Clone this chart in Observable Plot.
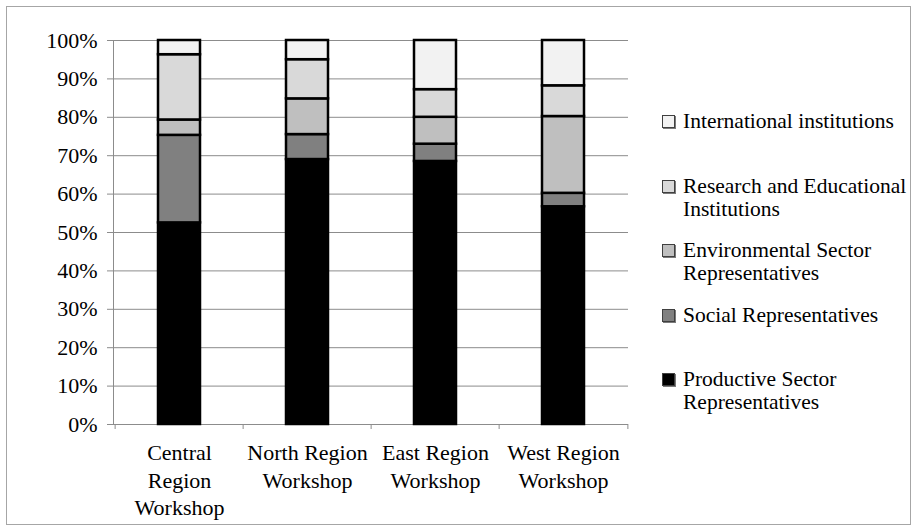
<!DOCTYPE html>
<html>
<head>
<meta charset="utf-8">
<script src="https://cdn.jsdelivr.net/npm/d3@7"></script>
<script src="https://cdn.jsdelivr.net/npm/@observablehq/plot@0.6"></script>
<style>
  html, body { margin: 0; padding: 0; background: #fff; }
  #chart { position: relative; width: 914px; height: 532px; font-family: "Liberation Serif", "Times New Roman", serif; }
  #border { position: absolute; left: 6px; top: 6px; width: 905px; height: 519px; border: 1px solid #a6a6a6; box-sizing: border-box; }
  #plot { position: absolute; left: 0; top: 0; }
  #legend { position: absolute; left: 662px; top: 110px; }
  .item { height: 64.5px; display: flex; align-items: flex-start; }
  .swatch { width: 13px; height: 13px; box-sizing: border-box; border: 1px solid #404040; box-shadow: 1px 1px 0 #7a7a7a; margin-top: 5px; margin-right: 8px; flex: none; }
  .label { font-family: "Liberation Serif", "Times New Roman", serif; font-size: 21.5px; line-height: 23px; color: #000; white-space: pre; }
</style>
</head>
<body>
<div id="chart">
  <div id="border"></div>
  <div id="plot"></div>
  <div id="legend"></div>
</div>
<script>
// Workshops and their axis labels
const categories = ["Central Region Workshop", "North Region Workshop", "East Region Workshop", "West Region Workshop"];
const tickLabels = ["Central\nRegion\nWorkshop", "North Region\nWorkshop", "East Region\nWorkshop", "West Region\nWorkshop"];

// Stakeholder groups, bottom of the stack first
const groups = ["Productive Sector Representatives", "Social Representatives", "Environmental Sector Representatives", "Research and Educational Institutions", "International institutions"];
const legendLabels = ["Productive Sector\nRepresentatives", "Social Representatives", "Environmental Sector\nRepresentatives", "Research and Educational\nInstitutions", "International institutions"];
const groupColors = ["#000000", "#808080", "#bfbfbf", "#d9d9d9", "#f2f2f2"];

// Share of participants per workshop
const productive = [0.525, 0.690, 0.685, 0.567];
const social = [0.228, 0.065, 0.045, 0.035];
const environmental = [0.040, 0.093, 0.070, 0.200];
const research = [0.170, 0.102, 0.072, 0.080];
const international = [0.037, 0.050, 0.128, 0.118];

const yTicks = [0, 0.1, 0.2, 0.3, 0.4, 0.5, 0.6, 0.7, 0.8, 0.9, 1];

const seriesValues = [productive, social, environmental, research, international];
const rows = [];
groups.forEach((g, gi) => {
  categories.forEach((c, ci) => rows.push({workshop: c, group: g, share: seriesValues[gi][ci]}));
});

const serif = '"Liberation Serif", "Times New Roman", serif';
const width = 914, height = 532;
const marginLeft = 113, marginRight = 286, marginTop = 40, marginBottom = 108;
const step = (width - marginLeft - marginRight) / categories.length;
const grid = "#8c8c8c";

const chart = Plot.plot({
  width, height, marginLeft, marginRight, marginTop, marginBottom,
  style: {fontFamily: serif, fontSize: "22px", color: "#000", background: "transparent"},
  x: {domain: categories, paddingInner: 0.674, paddingOuter: 0.337, axis: null},
  y: {domain: [0, 1], axis: null},
  color: {domain: groups, range: groupColors},
  marks: [
    Plot.ruleY(yTicks, {stroke: grid, strokeWidth: 1}),
    Plot.frame({anchor: "left", stroke: grid}),
    Plot.axisY({ticks: yTicks, tickFormat: d3.format(".0%"), label: null, tickSize: 6, tickPadding: 10, stroke: grid, fill: "#000", fontSize: 22, fontFamily: serif}),
    // category boundary ticks below the x axis
    Plot.ruleX(categories, {x: d => d, y1: 0, y2: 0, dx: -step / 2, insetBottom: -5, stroke: grid}),
    Plot.ruleX(categories.slice(-1), {x: d => d, y1: 0, y2: 0, dx: step / 2, insetBottom: -5, stroke: grid}),
    Plot.barY(rows, {x: "workshop", y: "share", fill: "group", order: groups, stroke: "#000", strokeWidth: 2.5}),
    Plot.text(categories, {x: d => d, y: 0, text: (d, i) => tickLabels[i], lineAnchor: "top", dy: 16, lineHeight: 1.25, fontSize: 22, fontFamily: serif, fill: "#000"})
  ]
});
document.getElementById("plot").appendChild(chart);

// Legend, top entry first
const legend = document.getElementById("legend");
groups.map((g, i) => i).reverse().forEach(i => {
  const item = document.createElement("div");
  item.className = "item";
  const sw = document.createElement("div");
  sw.className = "swatch";
  sw.style.background = groupColors[i];
  const lab = document.createElement("div");
  lab.className = "label";
  lab.textContent = legendLabels[i];
  item.appendChild(sw);
  item.appendChild(lab);
  legend.appendChild(item);
});
</script>
</body>
</html>
